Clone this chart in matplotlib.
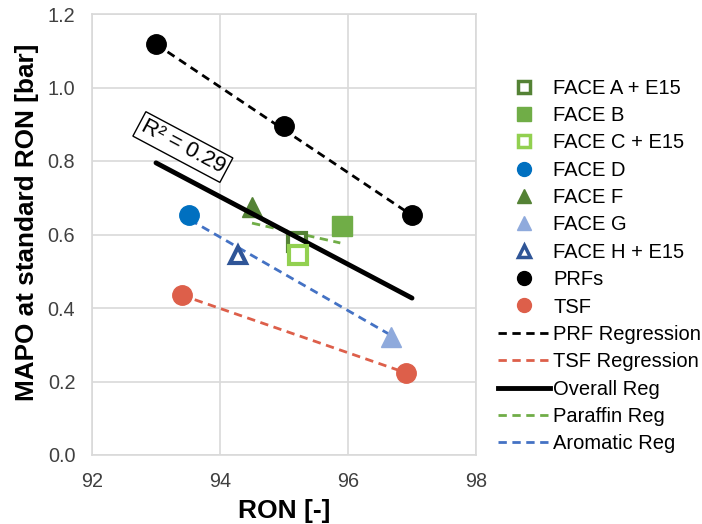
import matplotlib
matplotlib.use("Agg")
import matplotlib.pyplot as plt
from matplotlib.lines import Line2D

plt.rcParams['font.family'] = ['Liberation Sans', 'DejaVu Sans']

# Data points (RON, MAPO)
face_a_x, face_a_y = [95.2], [0.58]
face_b_x, face_b_y = [95.9], [0.623]
face_c_x, face_c_y = [95.22], [0.545]
face_d_x, face_d_y = [93.52], [0.653]
face_f_x, face_f_y = [94.5], [0.675]
face_g_x, face_g_y = [96.67], [0.32]
face_h_x, face_h_y = [94.28], [0.545]
prf_x, prf_y = [93.0, 95.0, 97.0], [1.118, 0.895, 0.652]
tsf_x, tsf_y = [93.4, 96.9], [0.435, 0.224]

# Regression line endpoints
prf_reg_x, prf_reg_y = [93.0, 97.0], [1.118, 0.652]
tsf_reg_x, tsf_reg_y = [93.4, 96.9], [0.435, 0.224]
overall_reg_x, overall_reg_y = [93.0, 97.0], [0.795, 0.427]
paraffin_reg_x, paraffin_reg_y = [94.5, 95.88], [0.631, 0.577]
aromatic_reg_x, aromatic_reg_y = [93.53, 96.69], [0.64, 0.324]

r2_text = "R² = 0.29"
x_ticks = [92, 94, 96, 98]
y_ticks = [0.0, 0.2, 0.4, 0.6, 0.8, 1.0, 1.2]

fig = plt.figure(figsize=(7.02, 5.24), dpi=100)
ax = fig.add_axes([92/702, 1-455/524, (476-92)/702, (455-14)/524])

C_DG = '#548235'
C_G = '#70ad47'
C_LG = '#92d050'
C_D = '#0070c0'
C_LB = '#8faadc'
C_DB = '#2f5597'
C_R = '#dd5f4a'
C_AB = '#4472c4'

ms = 14
ax.plot(prf_reg_x, prf_reg_y, ls=(0, (3, 2)), color='black', lw=2, zorder=2)
ax.plot(tsf_reg_x, tsf_reg_y, ls=(0, (3, 2)), color=C_R, lw=2, zorder=2)
ax.plot(paraffin_reg_x, paraffin_reg_y, ls=(0, (3, 2)), color=C_G, lw=2, zorder=2)
ax.plot(aromatic_reg_x, aromatic_reg_y, ls=(0, (3, 2)), color=C_AB, lw=2, zorder=2)

ax.plot(face_a_x, face_a_y, 's', ms=ms-1, mfc='white', mec=C_DG, mew=3, zorder=3)
ax.plot(face_b_x, face_b_y, 's', ms=ms, color=C_G, zorder=3)
ax.plot(face_c_x, face_c_y, 's', ms=ms-1, mfc='white', mec=C_LG, mew=3, zorder=4)
ax.plot(face_d_x, face_d_y, 'o', ms=ms, color=C_D, zorder=3)
ax.plot(face_f_x, face_f_y, '^', ms=ms, color=C_DG, zorder=3)
ax.plot(face_g_x, face_g_y, '^', ms=ms, color=C_LB, zorder=3)
ax.plot(face_h_x, face_h_y, '^', ms=ms-2, mfc='white', mec=C_DB, mew=3, zorder=3)
ax.plot(prf_x, prf_y, 'o', ms=ms, color='black', zorder=3)
ax.plot(tsf_x, tsf_y, 'o', ms=ms, color=C_R, zorder=3)

ax.plot(overall_reg_x, overall_reg_y, '-', color='black', lw=3.5, zorder=3.5,
        solid_capstyle='round')

ax.text(93.42, 0.838, r2_text, rotation=-28, fontsize=16, ha='center', va='center',
        bbox=dict(boxstyle='square,pad=0.15', fc='white', ec='black', lw=1), zorder=5)

ax.set_xlim(92, 98)
ax.set_ylim(0, 1.2)
ax.set_xticks(x_ticks)
ax.set_yticks(y_ticks)
ax.set_yticklabels([f"{v:.1f}" for v in y_ticks])
ax.grid(True, color='#d9d9d9', lw=1.2)
ax.set_axisbelow(True)
for s in ax.spines.values():
    s.set_color('#d9d9d9')
    s.set_linewidth(1.2)
ax.tick_params(length=0, labelsize=14.3, colors='#404040')
ax.tick_params(axis='x', pad=12)
ax.tick_params(axis='y', pad=12)
ax.set_xlabel('RON [-]', fontsize=19, fontweight='bold', labelpad=6)
ax.set_ylabel('MAPO at standard RON [bar]', fontsize=18.8, fontweight='bold')
ax.yaxis.set_label_coords(-0.138, 0.528)

lms = 10
handles = [
    Line2D([], [], ls='none', marker='s', ms=lms-1, mfc='white', mec=C_DG, mew=2.5),
    Line2D([], [], ls='none', marker='s', ms=lms, color=C_G),
    Line2D([], [], ls='none', marker='s', ms=lms-1, mfc='white', mec=C_LG, mew=2.5),
    Line2D([], [], ls='none', marker='o', ms=lms, color=C_D),
    Line2D([], [], ls='none', marker='^', ms=lms, color=C_DG),
    Line2D([], [], ls='none', marker='^', ms=lms, color=C_LB),
    Line2D([], [], ls='none', marker='^', ms=lms-1, mfc='white', mec=C_DB, mew=2.5),
    Line2D([], [], ls='none', marker='o', ms=lms, color='black'),
    Line2D([], [], ls='none', marker='o', ms=lms, color=C_R),
    Line2D([], [], ls=(0, (3, 2)), color='black', lw=2),
    Line2D([], [], ls=(0, (3, 2)), color=C_R, lw=2),
    Line2D([], [], ls='-', color='black', lw=3.5),
    Line2D([], [], ls=(0, (3, 2)), color=C_G, lw=2),
    Line2D([], [], ls=(0, (3, 2)), color=C_AB, lw=2),
]
labels = ['FACE A + E15', 'FACE B', 'FACE C + E15', 'FACE D', 'FACE F', 'FACE G',
          'FACE H + E15', 'PRFs', 'TSF', 'PRF Regression', 'TSF Regression',
          'Overall Reg', 'Paraffin Reg', 'Aromatic Reg']
fig.legend(handles, labels, loc='center left', bbox_to_anchor=(498/702, 1-266/524),
           frameon=False, fontsize=14.5, handlelength=2.6, handletextpad=0.15,
           labelspacing=0.415, borderaxespad=0, borderpad=0)

fig.savefig('out.png', dpi=100)
